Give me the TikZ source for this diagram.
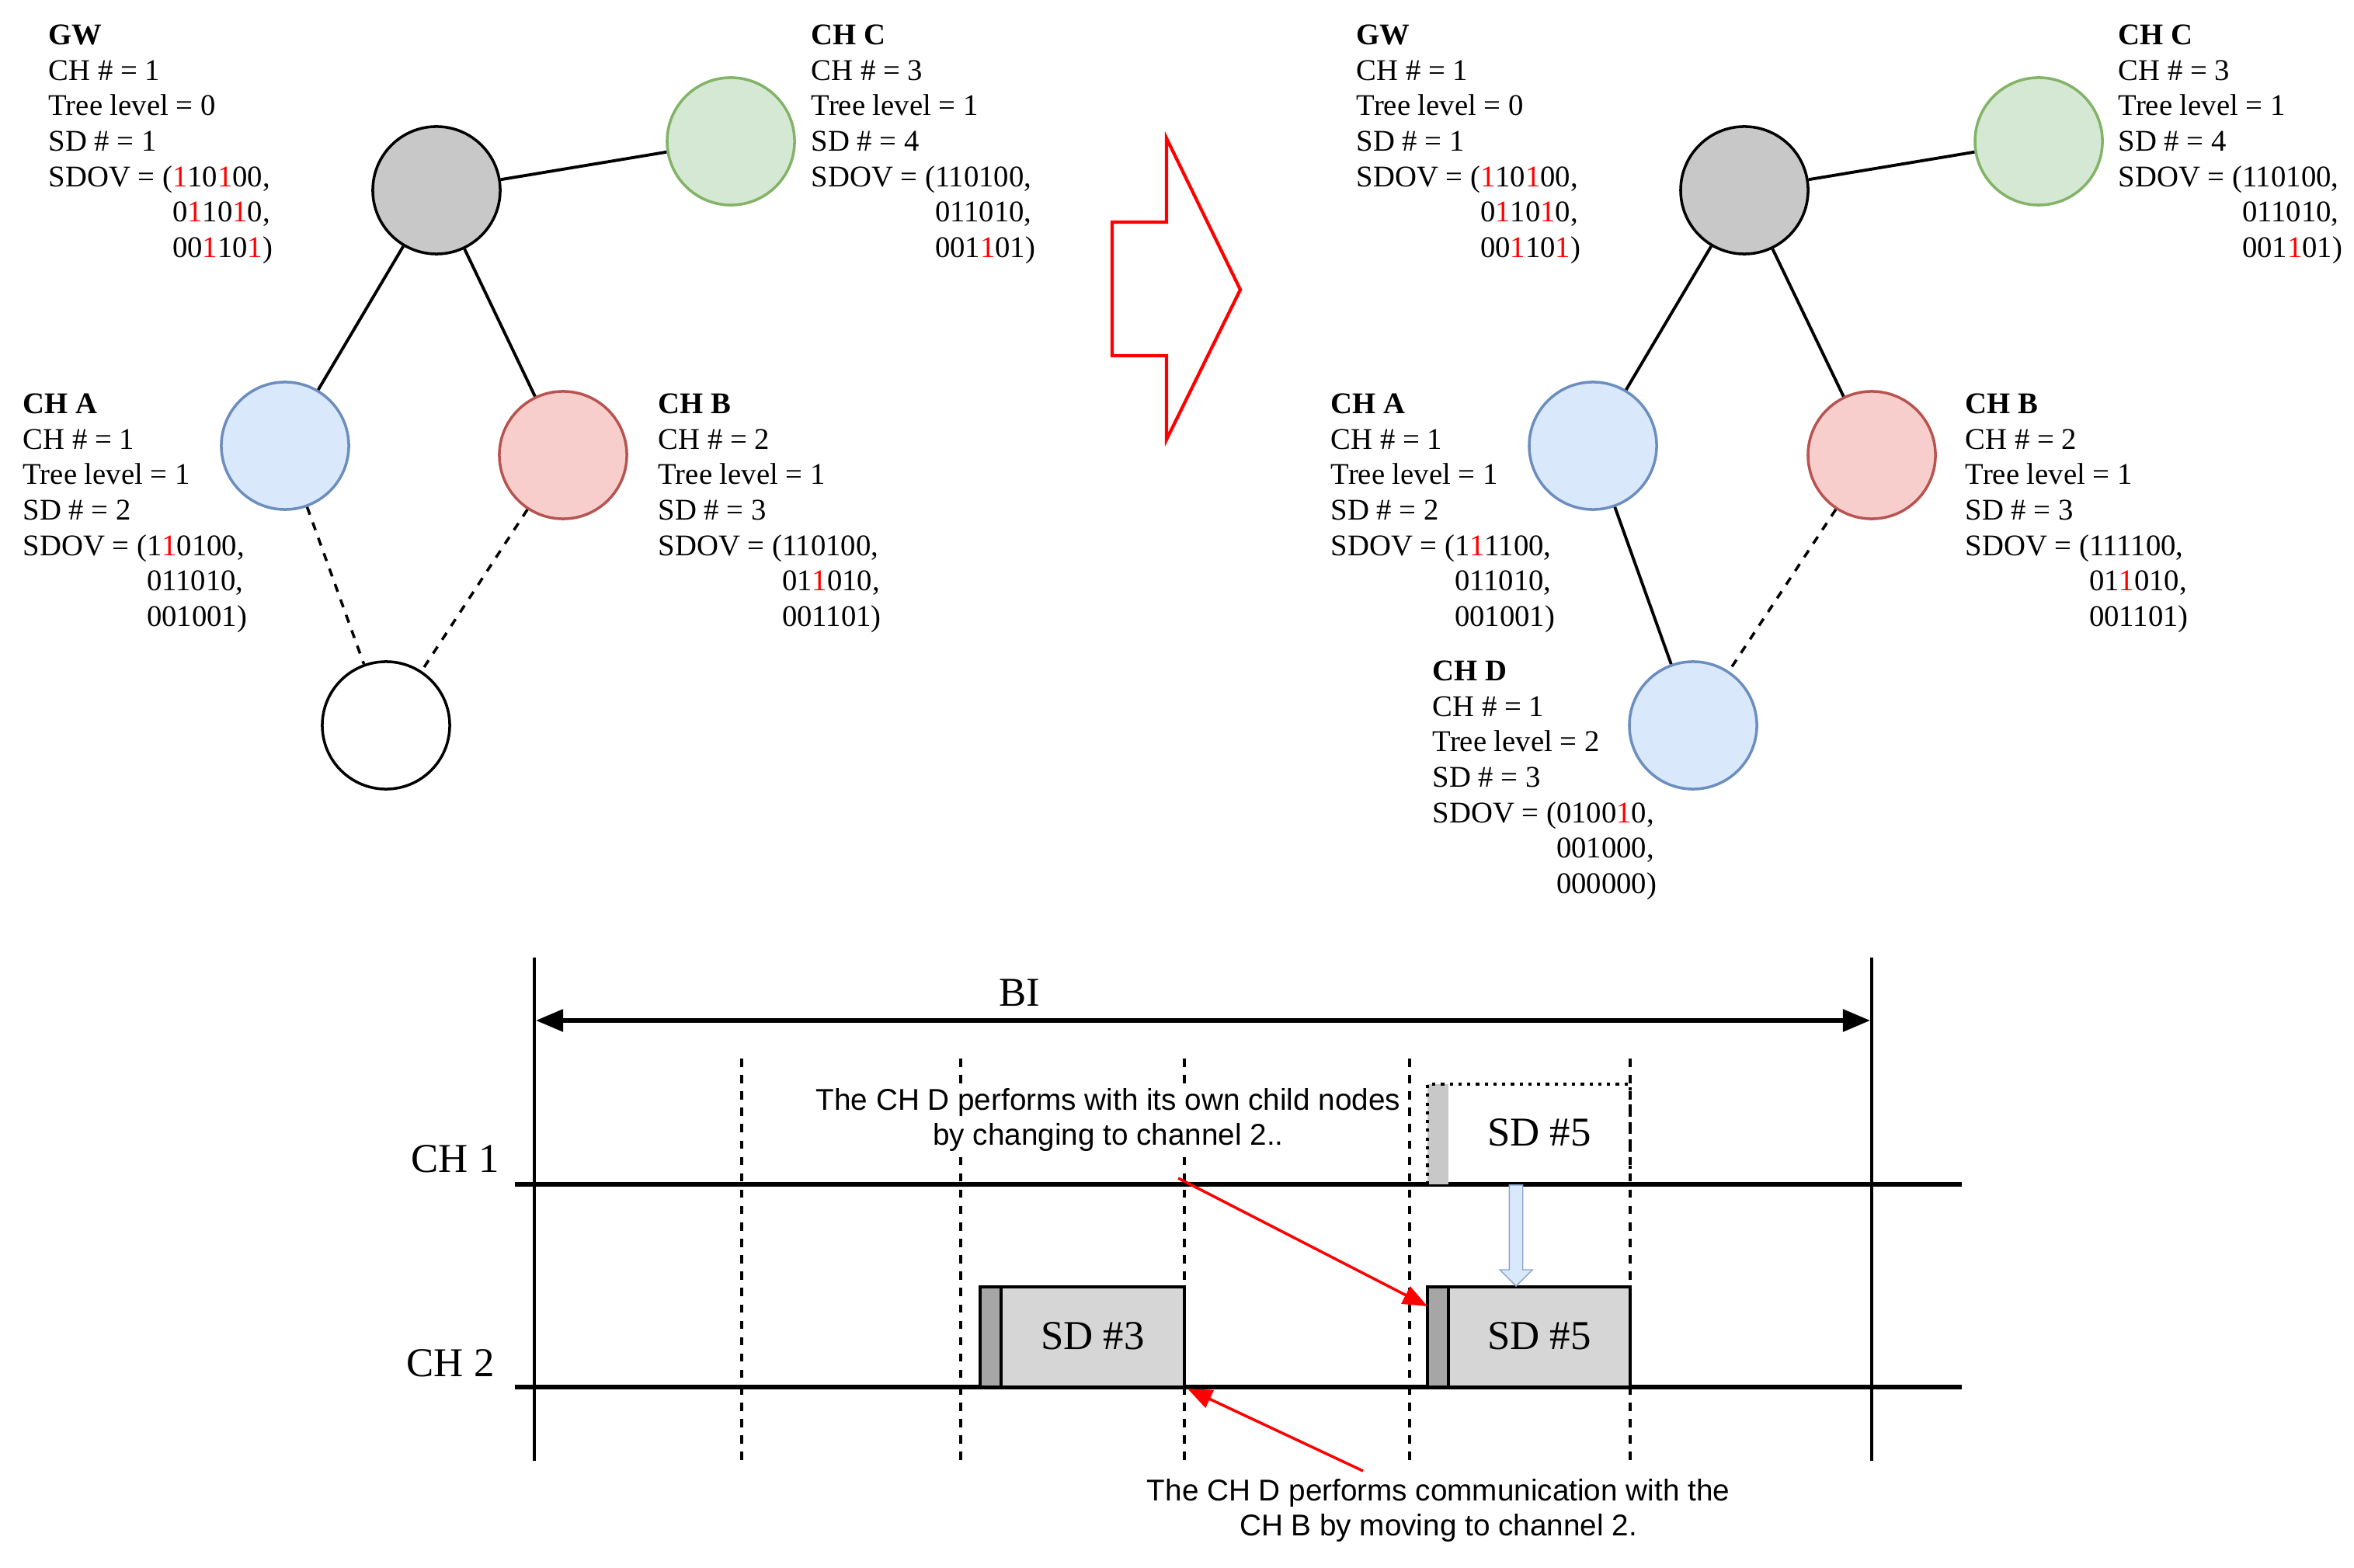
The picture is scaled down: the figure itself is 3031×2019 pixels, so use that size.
\documentclass[tikz,border=0pt]{standalone}
\usepackage{fontspec}
\setmainfont{Liberation Serif}
\newfontfamily\ars{Liberation Sans}
\usetikzlibrary{arrows.meta,shapes.arrows}
\definecolor{gwf}{HTML}{C8C8C8}
\definecolor{gf}{HTML}{D5E8D4}\definecolor{gd}{HTML}{82B366}
\definecolor{bf}{HTML}{DAE8FC}\definecolor{bd}{HTML}{6C8EBF}
\definecolor{rf}{HTML}{F8CECC}\definecolor{rd}{HTML}{B85450}
\newcommand\rd[1]{\textcolor{red}{#1}}
\newcommand\ind{\hphantom{SDOV = (}}
\begin{document}
\begin{tikzpicture}[x=0.01cm,y=-0.01cm,
  circ/.style={circle,draw,line width=1pt,minimum size=164\pgflinewidth*0+1.64cm,inner sep=0pt},
  info/.style={anchor=north west,align=left,inner sep=0pt,font=\fontsize{11}{13}\selectfont},
  ln/.style={line width=1.1pt},
  dsh/.style={line width=1pt,dashed},
  big/.style={font=\fontsize{15}{17}\selectfont},
  note/.style={font=\ars\fontsize{11}{13}\selectfont,align=center,fill=white,inner sep=1pt},
  rar/.style={red,line width=1pt,-{Triangle[length=9pt,width=7pt]}}]
\useasboundingbox (0,0) rectangle (3031,2019);
% left tree
\node[circ,fill=gwf] (g1) at (562,245) {};
\node[circ,fill=gf,draw=gd] (c1) at (941,182) {};
\node[circ,fill=bf,draw=bd] (a1) at (367,574) {};
\node[circ,fill=rf,draw=rd] (b1) at (725,586) {};
\node[circ,fill=white] (d1) at (497,934) {};
\draw[ln] (g1)--(c1); \draw[ln] (g1)--(a1); \draw[ln] (g1)--(b1);
\draw[dsh] (a1)--(d1); \draw[dsh] (b1)--(d1);
\node[info] (tg1) at (62,31) {\textbf{GW}\\CH \# = 1\\Tree level = 0\\SD \# = 1\\SDOV = (\rd{1}10\rd{1}00,\\\ind 0\rd{1}10\rd{1}0,\\\ind 00\rd{1}10\rd{1})};
\node[info] (tc1) at (1044,31) {\textbf{CH C}\\CH \# = 3\\Tree level = 1\\SD \# = 4\\SDOV = (110100,\\\ind 011010,\\\ind 001\rd{1}01)};
\node[info] (ta1) at (29,506) {\textbf{CH A}\\CH \# = 1\\Tree level = 1\\SD \# = 2\\SDOV = (1\rd{1}0100,\\\ind 011010,\\\ind 001001)};
\node[info] (tb1) at (847,506) {\textbf{CH B}\\CH \# = 2\\Tree level = 1\\SD \# = 3\\SDOV = (110100,\\\ind 01\rd{1}010,\\\ind 001101)};
% big arrow
\draw[red,line width=1.2pt] (1432,286)--(1502,286)--(1502,178)--(1597,373)--(1502,566)--(1502,458)--(1432,458)--cycle;
% right tree
\node[circ,fill=gwf] (g2) at (2246,245) {};
\node[circ,fill=gf,draw=gd] (c2) at (2625,182) {};
\node[circ,fill=bf,draw=bd] (a2) at (2051,574) {};
\node[circ,fill=rf,draw=rd] (b2) at (2410,586) {};
\node[circ,fill=bf,draw=bd] (d2) at (2180,934) {};
\draw[ln] (g2)--(c2); \draw[ln] (g2)--(a2); \draw[ln] (g2)--(b2);
\draw[ln] (a2)--(d2); \draw[dsh] (b2)--(d2);
\node[info] (tg2) at (1746,31) {\textbf{GW}\\CH \# = 1\\Tree level = 0\\SD \# = 1\\SDOV = (\rd{1}10\rd{1}00,\\\ind 0\rd{1}10\rd{1}0,\\\ind 00\rd{1}10\rd{1})};
\node[info] (tc2) at (2727,31) {\textbf{CH C}\\CH \# = 3\\Tree level = 1\\SD \# = 4\\SDOV = (110100,\\\ind 011010,\\\ind 001\rd{1}01)};
\node[info] (ta2) at (1713,506) {\textbf{CH A}\\CH \# = 1\\Tree level = 1\\SD \# = 2\\SDOV = (1\rd{1}1100,\\\ind 011010,\\\ind 001001)};
\node[info] (tb2) at (2530,506) {\textbf{CH B}\\CH \# = 2\\Tree level = 1\\SD \# = 3\\SDOV = (111100,\\\ind 01\rd{1}010,\\\ind 001101)};
\node[info] (td2) at (1844,850) {\textbf{CH D}\\CH \# = 1\\Tree level = 2\\SD \# = 3\\SDOV = (0100\rd{1}0,\\\ind 001000,\\\ind 000000)};
% timeline
\draw[line width=1.1pt] (688,1233)--(688,1881);
\draw[line width=1.1pt] (2410,1233)--(2410,1881);
\foreach \x in {955,1237,1525,1815,2099} \draw[dsh] (\x,1363)--(\x,1881);
\coordinate (bl) at (690,1314); \coordinate (br) at (2408,1314);
\draw[line width=1.5pt,{Triangle[length=10pt,width=8pt]}-{Triangle[length=10pt,width=8pt]}] (bl)--(br);
\node[big] (bi) at (1313,1278) {BI};
\draw[line width=1.5pt] (663,1525)--(2526,1525);
\draw[line width=1.5pt] (663,1786)--(2526,1786);
\node[big] (ch1) at (586,1492) {CH 1};
\node[big] (ch2) at (580,1755) {CH 2};
% SD boxes
\draw[line width=1.2pt,fill=gwf!75] (1262,1657) rectangle (1525,1786);
\draw[line width=1.2pt,fill=gray!70] (1262,1657) rectangle (1289,1786);
\node[big] (s3) at (1407,1720) {SD \#3};
\draw[line width=1.2pt,fill=gwf!75] (1838,1657) rectangle (2099,1786);
\draw[line width=1.2pt,fill=gray!70] (1838,1657) rectangle (1865,1786);
\node[big] (s5) at (1982,1720) {SD \#5};
\fill[gwf] (1838,1396) rectangle (1865,1525);
\draw[line width=1.2pt,dotted] (1838,1525)--(1838,1396)--(2099,1396)--(2099,1525);
\node[big] (s5u) at (1982,1458) {SD \#5};
% blue arrow
\node[single arrow,draw=bd!80,fill=bf,shape border rotate=270,minimum height=1.3cm,minimum width=0.42cm,single arrow head extend=0.06cm,inner sep=1pt,anchor=tip] (ba) at (1952,1657) {};
% notes
\node[note] (n1) at (1427,1442) {The CH D performs with its own child nodes\\by changing to channel 2..};
\node[note] (n2) at (1852,1945) {The CH D performs communication with the\\CH B by moving to channel 2.};
\coordinate (p1) at (1517,1517); \coordinate (q1) at (1838,1682);
\coordinate (p2) at (1755,1894); \coordinate (q2) at (1529,1788);
\draw[rar] (p1)--(q1);
\draw[rar] (p2)--(q2);
\end{tikzpicture}
\end{document}
